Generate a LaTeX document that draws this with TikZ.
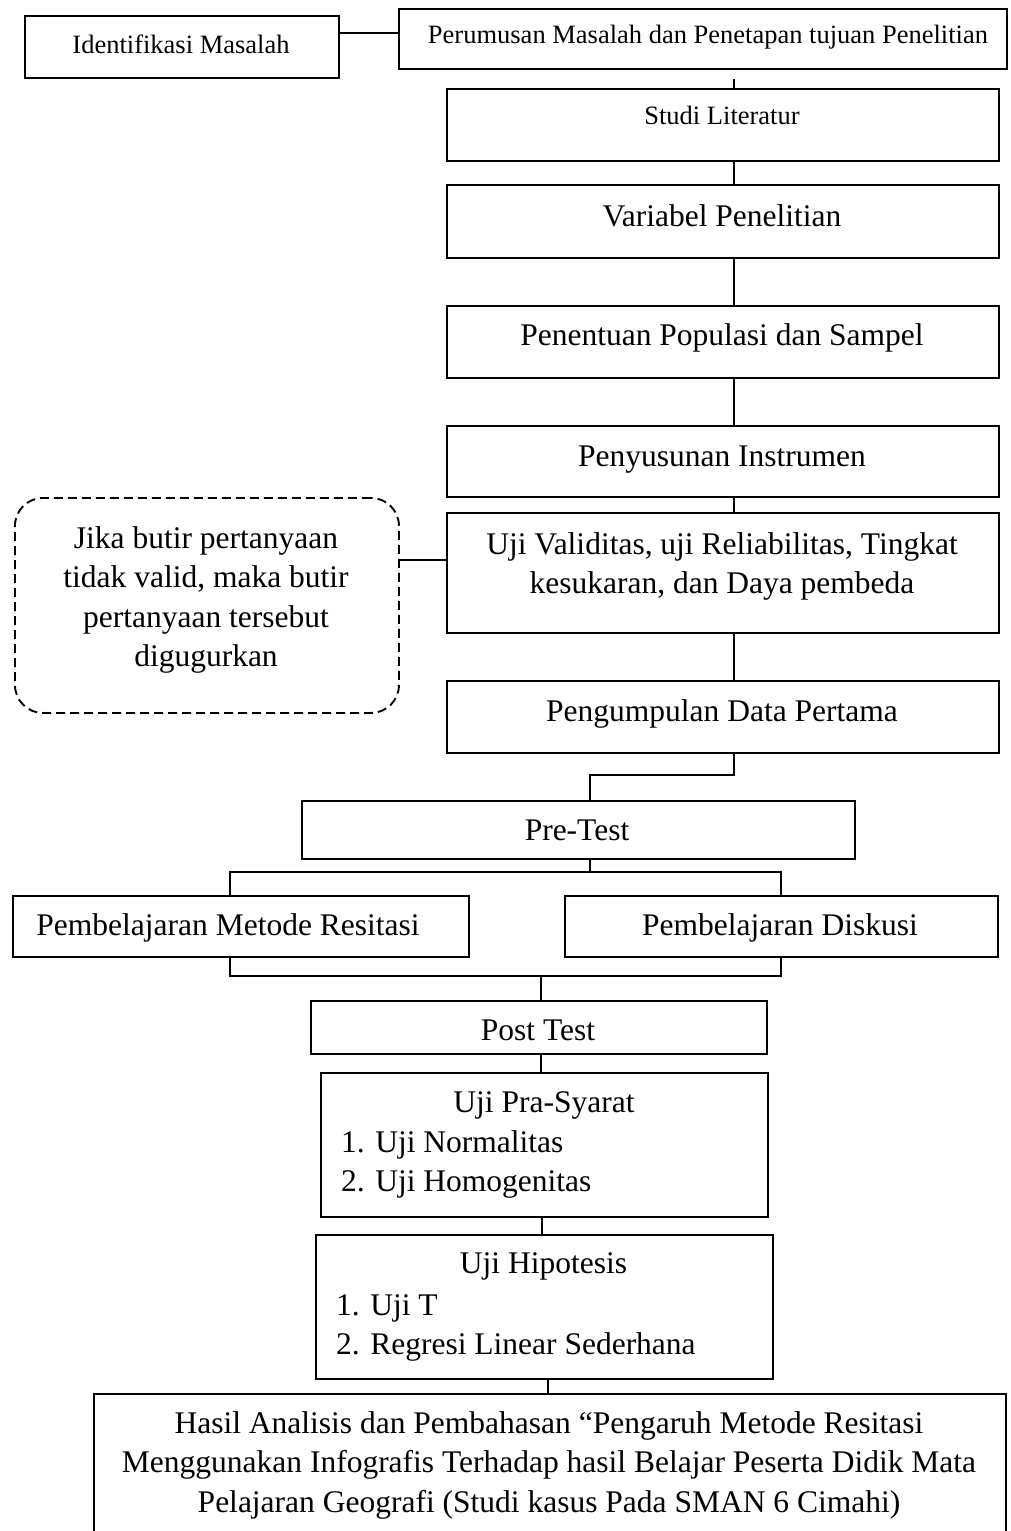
\documentclass[tikz,border=0pt]{standalone}
\usepackage{fontspec}
\setmainfont{Liberation Serif}
\newcommand{\fbig}{\fontsize{31.5}{39.5}\selectfont}
\newcommand{\fsmall}{\fontsize{26.5}{33}\selectfont}
\newcommand{\topstrut}{\rule{0pt}{30pt}}
\begin{document}
\begin{tikzpicture}[x=1pt,y=-1pt,
  box/.style={draw, line width=1.9pt, inner sep=0pt, anchor=north west},
  dbox/.style={draw, line width=1.9pt, inner sep=0pt, anchor=north west, dash pattern=on 9pt off 5pt, rounded corners=28pt},
  txt/.style={inner sep=0pt, font=\fbig},
  stxt/.style={inner sep=0pt, font=\fsmall},
  conn/.style={draw, line width=1.9pt}]
\useasboundingbox (0,0) rectangle (1010,1531);

% boxes
\node[box, minimum width=314pt, minimum height=62pt] (ident) at (24,15) {};
\node[box, minimum width=608pt, minimum height=60pt] (perum) at (398,8) {};
\node[box, minimum width=552pt, minimum height=72pt] (studi) at (446,88) {};
\node[box, minimum width=552pt, minimum height=73pt] (var) at (446,184) {};
\node[box, minimum width=552pt, minimum height=72pt] (pop) at (446,305) {};
\node[box, minimum width=552pt, minimum height=71pt] (instr) at (446,425) {};
\node[box, minimum width=552pt, minimum height=120pt] (valid) at (446,512) {};
\node[dbox, minimum width=384pt, minimum height=215pt] (dash) at (14,497) {};
\node[box, minimum width=552pt, minimum height=72pt] (kumpul) at (446,680) {};
\node[box, minimum width=553pt, minimum height=58pt] (pre) at (301,800) {};
\node[box, minimum width=456pt, minimum height=61pt] (resit) at (12,895) {};
\node[box, minimum width=433pt, minimum height=61pt] (disk) at (564,895) {};
\node[box, minimum width=456pt, minimum height=53pt] (post) at (310,1000) {};
\node[box, minimum width=447pt, minimum height=144pt] (pras) at (320,1072) {};
\node[box, minimum width=457pt, minimum height=144pt] (hipo) at (315,1234) {};
\node[box, minimum width=912pt, minimum height=152pt] (final) at (93,1393) {};

% texts
\node[stxt, anchor=base] (identT) at (181,53) {Identifikasi Masalah};
\node[stxt, anchor=base] (perumT) at (708,43) {Perumusan Masalah dan Penetapan tujuan Penelitian};
\node[stxt, anchor=base] (studiT) at (722,124) {Studi Literatur};
\node[txt, anchor=base] (varT) at (722,226) {Variabel Penelitian};
\node[txt, anchor=base] (popT) at (722,345) {Penentuan Populasi dan Sampel};
\node[txt, anchor=base] (instrT) at (722,466) {Penyusunan Instrumen};
\node[txt, anchor=north, align=center] (validT) at (722,524) {\topstrut Uji Validitas, uji Reliabilitas, Tingkat\\kesukaran, dan Daya pembeda};
\node[txt, anchor=north, align=center] (dashT) at (206,518) {\topstrut Jika butir pertanyaan\\tidak valid, maka butir\\pertanyaan tersebut\\digugurkan};
\node[txt, anchor=base] (kumpulT) at (722,721) {Pengumpulan Data Pertama};
\node[txt, anchor=base] (preT) at (577,840) {Pre-Test};
\node[txt, anchor=base] (resitT) at (228,935) {Pembelajaran Metode Resitasi};
\node[txt, anchor=base] (diskT) at (780,935) {Pembelajaran Diskusi};
\node[txt, anchor=base] (postT) at (538,1040) {Post Test};
\node[txt, anchor=base] (prasT) at (544,1112.5) {Uji Pra-Syarat};
\node[txt, anchor=north west, align=left] (prasL) at (341,1122) {\topstrut 1. Uji Normalitas\\2. Uji Homogenitas};
\node[txt, anchor=base] (hipoT) at (543.5,1273) {Uji Hipotesis};
\node[txt, anchor=north west, align=left] (hipoL) at (336,1285) {\topstrut 1. Uji T\\2. Regresi Linear Sederhana};
\node[txt, anchor=north, align=center] (finalT) at (549,1403) {\topstrut Hasil Analisis dan Pembahasan “Pengaruh Metode Resitasi\\Menggunakan Infografis Terhadap hasil Belajar Peserta Didik Mata\\Pelajaran Geografi (Studi kasus Pada SMAN 6 Cimahi)};

% helper coordinates
\coordinate (xa) at (734,0);
\coordinate (ya) at (0,33);
\coordinate (ye) at (0,560);
\coordinate (xb) at (590,775);
\coordinate (yc) at (0,872);
\coordinate (yd) at (0,976);
\coordinate (xl) at (230,0);
\coordinate (xr) at (781,0);
\coordinate (xm) at (541,0);
\coordinate (xn) at (542,0);
\coordinate (xo) at (548,0);

% connectors
\draw[conn] (ident.east |- ya) -- (perum.west |- ya);
\draw[conn] ([yshift=-9pt]perum.south -| xa) -- (studi.north -| xa);
\draw[conn] (studi.south -| xa) -- (var.north -| xa);
\draw[conn] (var.south -| xa) -- (pop.north -| xa);
\draw[conn] (pop.south -| xa) -- (instr.north -| xa);
\draw[conn] (instr.south -| xa) -- (valid.north -| xa);
\draw[conn] (dash.east |- ye) -- (valid.west |- ye);
\draw[conn] (valid.south -| xa) -- (kumpul.north -| xa);
\draw[conn] (kumpul.south -| xa) |- (xb) -- (pre.north -| xb);
\draw[conn] (pre.south -| xb) -- (xb |- yc);
\draw[conn] (resit.north -| xl) |- (xr |- yc) -- (disk.north -| xr);
\draw[conn] (resit.south -| xl) |- (xr |- yd) -- (disk.south -| xr);
\draw[conn] (xm |- yd) -- (post.north -| xm);
\draw[conn] (post.south -| xm) -- (pras.north -| xm);
\draw[conn] (pras.south -| xn) -- (hipo.north -| xn);
\draw[conn] (hipo.south -| xo) -- (final.north -| xo);
\end{tikzpicture}
\end{document}
